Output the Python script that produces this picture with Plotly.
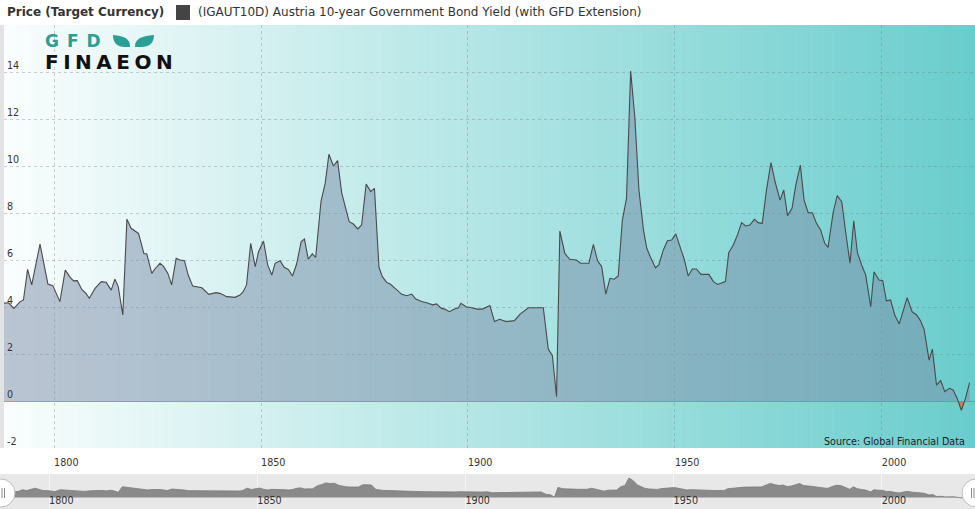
import plotly.graph_objects as go

W, H = 975, 509

# ---------------- data ----------------
years = [
    1787.6, 1789.0, 1790.3, 1791.8, 1792.6, 1793.6, 1794.6, 1796.6, 1798.5, 1799.7,
    1801.4, 1802.7, 1803.9, 1804.7, 1805.6, 1806.7, 1807.7, 1808.5, 1809.9, 1811.4,
    1812.6, 1813.8, 1814.7, 1815.5, 1816.6, 1817.6, 1818.6, 1820.4, 1821.7, 1822.4,
    1823.6, 1824.5, 1825.6, 1826.4, 1827.5, 1828.4, 1829.5, 1830.4, 1831.5, 1832.4,
    1833.5,
    1834.1, 1835.7, 1837.4, 1839.1, 1840.1, 1841.7, 1843.7, 1844.9, 1845.7, 1846.5,
    1847.5, 1848.6, 1849.4, 1850.6, 1851.6, 1852.6, 1853.4, 1854.6, 1855.6, 1856.6,
    1857.6, 1858.6, 1859.7, 1860.5, 1861.4, 1862.4, 1863.2, 1864.5, 1865.5, 1866.4,
    1867.5, 1868.5, 1869.5, 1870.3, 1871.3, 1872.3, 1873.4, 1874.3, 1875.4, 1876.5,
    1877.4, 1878.5, 1879.3, 1880.4,
    1881.2, 1882.4, 1884.0, 1885.2, 1886.4, 1887.4, 1888.8, 1890.4, 1891.5, 1892.4,
    1893.6, 1894.4, 1895.5, 1896.6, 1897.7, 1898.3, 1899.5, 1900.9, 1902.1, 1903.5,
    1904.5, 1905.3, 1906.4, 1907.6, 1909.3, 1911.2, 1912.6, 1914.6, 1916.6, 1918.2,
    1919.4, 1920.4, 1921.4, 1922.2, 1923.4, 1924.6, 1926.2, 1927.2,
    1928.3, 1929.2, 1930.3, 1931.3, 1932.3, 1933.3, 1934.3, 1935.3, 1936.3, 1937.3,
    1938.3, 1939.3, 1940.3, 1941.3, 1942.4, 1943.2, 1944.2, 1945.3, 1946.1, 1947.2,
    1948.2, 1949.2, 1950.2, 1951.2, 1952.3, 1953.2, 1954.2, 1955.2, 1956.3, 1958.2,
    1959.3, 1960.3, 1961.3, 1962.2, 1963.0, 1964.1, 1965.1, 1966.1, 1967.1, 1968.1,
    1969.2, 1970.1, 1971.1, 1972.1, 1973.2, 1974.2,
    1975.4, 1976.3, 1977.2, 1978.3, 1979.2, 1980.3, 1981.2, 1982.2, 1983.2, 1984.2,
    1985.2, 1986.2, 1987.0, 1988.2, 1989.2, 1990.3, 1991.3, 1992.3, 1993.2, 1994.1,
    1995.1, 1996.1, 1997.3, 1998.1, 1999.3, 2000.2, 2001.1, 2002.1, 2003.1, 2004.2,
    2005.2, 2006.1, 2007.3, 2008.4, 2009.3, 2010.2, 2011.4, 2012.2, 2013.2, 2014.2,
    2015.2, 2016.3, 2017.2, 2018.2, 2019.2, 2020.2, 2021.2,
]
yields = [
    4.16, 4.18, 3.94, 4.23, 4.30, 5.60, 4.94, 6.68, 4.98, 4.91,
    4.23, 5.57, 5.26, 5.11, 5.12, 4.75, 4.58, 4.37, 4.79, 5.08,
    5.05, 4.72, 5.18, 4.87, 3.66, 7.74, 7.35, 7.13, 6.28, 6.26,
    5.43, 5.65, 5.86, 5.74, 5.43, 4.94, 6.07, 6.00, 5.97, 5.36,
    4.89,
    4.87, 4.82, 4.54, 4.61, 4.58, 4.44, 4.41, 4.51, 4.65, 4.94,
    6.71, 5.72, 6.35, 6.81, 5.79, 5.36, 5.86, 5.97, 5.69, 5.60,
    5.32, 5.83, 6.78, 6.89, 6.04, 6.26, 6.11, 8.51, 9.26, 10.50,
    10.00, 10.23, 8.84, 8.34, 7.63, 7.53, 7.32, 7.49, 9.23, 8.91,
    9.05, 5.69, 5.29, 5.04,
    4.98, 4.79, 4.54, 4.48, 4.55, 4.34, 4.23, 4.16, 4.09, 4.13,
    3.94, 3.91, 3.80, 3.90, 3.97, 4.16, 4.01, 3.97, 3.91, 3.91,
    4.01, 4.06, 3.38, 3.48, 3.38, 3.42, 3.70, 3.97, 3.97, 3.97,
    2.21, 1.93, 0.18, 7.23, 6.28, 6.03, 6.00, 5.86,
    5.86, 5.86, 6.67, 5.97, 5.72, 4.55, 5.22, 5.18, 5.32, 7.70,
    8.62, 14.04, 12.10, 8.98, 7.28, 6.50, 6.07, 5.67, 5.79, 6.43,
    6.82, 6.85, 7.11, 6.57, 6.00, 5.32, 5.62, 5.62, 5.39, 5.39,
    5.08, 4.96, 5.04, 5.08, 6.31, 6.64, 7.06, 7.59, 7.45, 7.49,
    7.73, 7.59, 7.56, 8.95, 10.14, 9.33,
    8.55, 8.98, 7.89, 8.20, 9.19, 10.04, 8.55, 8.01, 8.01, 7.56,
    7.28, 6.71, 6.54, 7.99, 8.74, 8.48, 7.13, 5.86, 7.67, 6.31,
    5.79, 5.36, 4.01, 5.50, 5.15, 5.12, 4.26, 4.30, 3.66, 3.28,
    3.87, 4.40, 3.80, 3.66, 3.42, 3.05, 1.74, 2.21, 0.68, 0.87,
    0.40, 0.54, 0.47, 0.11, -0.40, 0.11, 0.78,
]
x_tick_vals = [1800, 1850, 1900, 1950, 2000]
x_tick_text = ["1800", "1850", "1900", "1950", "2000"]
y_tick_vals = [-2, 0, 2, 4, 6, 8, 10, 12, 14]
y_tick_text = ["-2", "0", "2", "4", "6", "8", "10", "12", "14"]

title_text = "Price (Target Currency)"
series_name = "(IGAUT10D) Austria 10-year Government Bond Yield (with GFD Extension)"
source_text = "Source: Global Financial Data"
logo_top = "GFD"
logo_bottom = "FINAEON"

FONT = "DejaVu Sans"


def px(x):
    return x / W


def py(y):
    return 1 - y / H


# plot geometry (pixels)
PL, PR, PT, PB = 4, 975, 25, 448
NT, NB = 474, 509

# negative part (zero crossings derived from data)
neg_x, neg_y = [], []
for i in range(len(years)):
    x0, y0 = years[i], yields[i]
    neg_x.append(x0)
    neg_y.append(min(y0, 0))
    if i + 1 < len(years):
        x1, y1 = years[i + 1], yields[i + 1]
        if (y0 < 0) != (y1 < 0) and y0 != y1:
            xc = x0 + (0 - y0) * (x1 - x0) / (y1 - y0)
            neg_x.append(xc)
            neg_y.append(0)

fig = go.Figure()

fig.add_trace(go.Scatter(
    x=years, y=yields, mode="lines",
    line=dict(color="rgba(0,0,0,0)", width=0),
    fill="tozeroy", fillcolor="rgba(121,139,167,0.5)",
    xaxis="x", yaxis="y", hoverinfo="skip"))
fig.add_trace(go.Scatter(
    x=neg_x, y=neg_y, mode="lines",
    line=dict(color="rgba(0,0,0,0)", width=0),
    fill="tozeroy", fillcolor="rgba(232,104,84,0.85)",
    xaxis="x", yaxis="y", hoverinfo="skip"))
fig.add_trace(go.Scatter(
    x=years, y=yields, mode="lines", name=series_name,
    line=dict(color="#4a4a4a", width=1.1),
    xaxis="x", yaxis="y"))

# navigator series
fig.add_trace(go.Scatter(
    x=years, y=yields, mode="lines",
    line=dict(color="#7a7a7a", width=0.8),
    fill="tozeroy", fillcolor="rgba(128,128,128,0.9)",
    xaxis="x2", yaxis="y2", hoverinfo="skip"))

shapes = []
# gradient background for the plot area
N = 160
c0 = (250, 253, 253)
c1 = (106, 205, 205)
for k in range(N):
    t = (k + 0.5) / N
    col = tuple(int(round(c0[j] + (c1[j] - c0[j]) * t)) for j in range(3))
    xa = PL + (PR - PL) * k / N
    xb = PL + (PR - PL) * (k + 1) / N + 0.6
    shapes.append(dict(type="rect", xref="paper", yref="paper",
                       x0=px(xa), x1=px(min(xb, PR)), y0=py(PB), y1=py(PT),
                       fillcolor="rgb(%d,%d,%d)" % col, line=dict(width=0),
                       layer="below"))
# left border strip
shapes.append(dict(type="rect", xref="paper", yref="paper",
                   x0=0, x1=px(PL), y0=py(PB), y1=py(PT),
                   fillcolor="#e3e3e3", line=dict(width=0), layer="below"))
# navigator background
shapes.append(dict(type="rect", xref="paper", yref="paper",
                   x0=0, x1=1, y0=0, y1=py(NT),
                   fillcolor="#e8e8e8", line=dict(width=0), layer="below"))
# navigator handles
for cx, lx in ((1, (2.0, 4.5)), (976, (971.5, 974.0))):
    shapes.append(dict(type="circle", xref="paper", yref="paper",
                       x0=px(cx - 14), x1=px(cx + 14), y0=py(507), y1=py(479),
                       fillcolor="white", line=dict(color="#bdbdbd", width=1)))
    for l in lx:
        shapes.append(dict(type="line", xref="paper", yref="paper",
                           x0=px(l), x1=px(l), y0=py(498), y1=py(488),
                           line=dict(color="#8a8a8a", width=1)))
# legend symbol
shapes.append(dict(type="rect", xref="paper", yref="paper",
                   x0=px(176), x1=px(190), y0=py(20), y1=py(5),
                   fillcolor="#444444", line=dict(width=0)))
# logo leaves
TEAL = "#2a9f95"


def path(points):
    s = ""
    for cmd, pts in points:
        s += cmd + " " + " ".join("%.5f,%.5f" % (px(a), py(b)) for a, b in pts) + " "
    return s + "Z"


LY0, LY1 = 35, 47
shapes.append(dict(type="path", xref="paper", yref="paper",
                   path=path([("M", [(113, LY0)]), ("Q", [(113, LY1), (125, LY1)]),
                              ("L", [(130, LY1)]), ("Q", [(131, LY0 + 1), (113, LY0)])]),
                   fillcolor=TEAL, line=dict(width=0)))
shapes.append(dict(type="path", xref="paper", yref="paper",
                   path=path([("M", [(154, LY0)]), ("Q", [(154, LY1), (141, LY1)]),
                              ("L", [(135, LY1)]), ("Q", [(134, LY0 + 1), (154, LY0)])]),
                   fillcolor=TEAL, line=dict(width=0)))

annotations = []
annotations.append(dict(text="<b>%s</b>" % title_text, xref="paper", yref="paper",
                        x=px(5), y=py(12), xanchor="left", yanchor="middle",
                        showarrow=False, font=dict(family=FONT, size=12, color="#333333")))
annotations.append(dict(text=series_name, xref="paper", yref="paper",
                        x=px(196), y=py(12), xanchor="left", yanchor="middle",
                        showarrow=False, font=dict(family=FONT, size=12, color="#333333")))
annotations.append(dict(text=source_text, xref="paper", yref="paper",
                        x=px(967), y=py(441), xanchor="right", yanchor="middle",
                        showarrow=False, font=dict(family=FONT, size=9.6, color="#222222")))
# logo words
annotations.append(dict(text='<span style="letter-spacing:8px"><b>%s</b></span>' % logo_top,
                        xref="paper", yref="paper", x=px(44), y=py(40.5),
                        xanchor="left", yanchor="middle", showarrow=False, borderpad=0,
                        font=dict(family=FONT, size=17, color=TEAL)))
annotations.append(dict(text='<span style="letter-spacing:4.5px"><b>%s</b></span>' % logo_bottom,
                        xref="paper", yref="paper", x=px(44), y=py(62.5),
                        xanchor="left", yanchor="middle", showarrow=False, borderpad=0,
                        font=dict(family=FONT, size=20, color="#111111")))

GRID = "rgba(110,120,120,0.35)"

fig.update_layout(
    width=W, height=H,
    margin=dict(l=0, r=0, t=0, b=0, autoexpand=False),
    paper_bgcolor="white", plot_bgcolor="rgba(0,0,0,0)",
    showlegend=False,
    shapes=shapes, annotations=annotations,
    xaxis=dict(domain=[px(PL), 1], range=[1787.9, 2022.5], anchor="y",
               tickmode="array", tickvals=x_tick_vals, ticktext=x_tick_text,
               ticks="", ticklabelposition="outside right", ticklabelstandoff=7,
               tickfont=dict(family=FONT, size=9.6, color="#333333"),
               showgrid=True, gridcolor=GRID, griddash="dot", gridwidth=1,
               zeroline=False, showline=False, fixedrange=True),
    yaxis=dict(domain=[py(PB), py(PT)], range=[-2, 16], anchor="x",
               tickmode="array", tickvals=y_tick_vals, ticktext=y_tick_text,
               ticks="", ticklabelposition="inside top",
               tickfont=dict(family=FONT, size=9.6, color="#333333"),
               showgrid=True, gridcolor=GRID, griddash="dot", gridwidth=1,
               zeroline=True, zerolinecolor="rgba(190,110,100,0.8)", zerolinewidth=1,
               showline=False, fixedrange=True),
    xaxis2=dict(domain=[0, 1], range=[1788.2, 2022.4], anchor="free",
                position=py(493),
                tickmode="array", tickvals=x_tick_vals, ticktext=x_tick_text,
                ticks="", ticklabelposition="outside right",
                tickfont=dict(family=FONT, size=9.6, color="#333333"),
                showgrid=True, gridcolor="#f6f6f6", gridwidth=1,
                zeroline=False, showline=False, fixedrange=True),
    yaxis2=dict(domain=[0, py(NT)], range=[-8.32, 16.9], anchor="x2",
                visible=False, fixedrange=True),
)

fig.write_html("out.html",
               config={"displayModeBar": False},
               post_script="document.body.style.margin='0';"
                           "document.body.style.overflow='hidden';")
